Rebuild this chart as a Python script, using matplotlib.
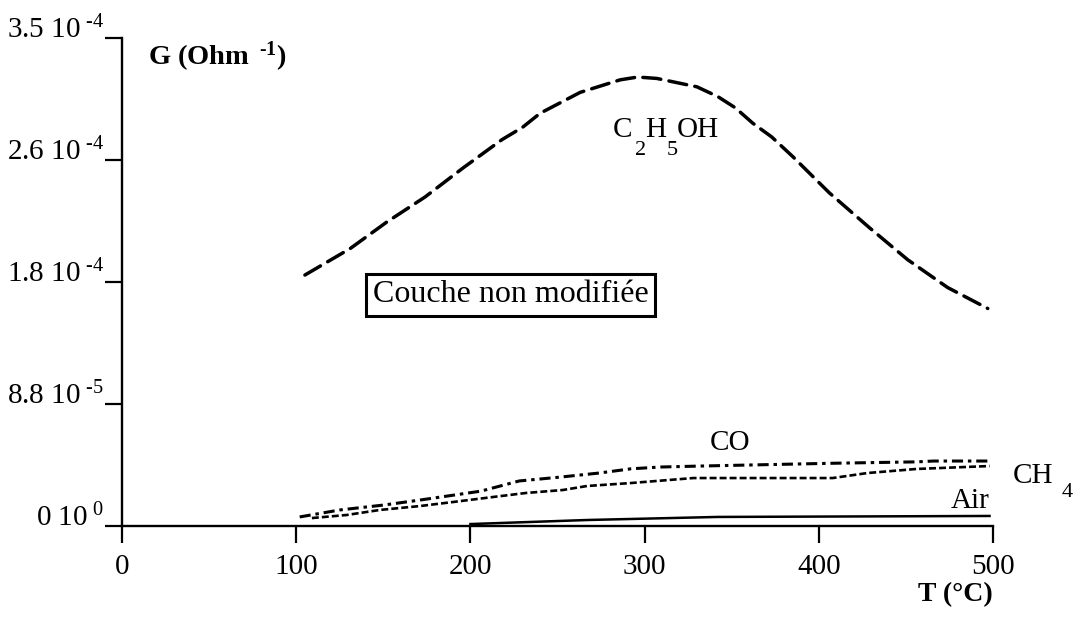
# conductance vs temperature, undoped layer
import matplotlib
matplotlib.use('Agg')
import matplotlib.pyplot as plt

plt.rcParams['font.family'] = ['Liberation Serif', 'DejaVu Serif']
plt.rcParams['mathtext.fontset'] = 'custom'
plt.rcParams['mathtext.rm'] = 'Liberation Serif'
plt.rcParams['mathtext.it'] = 'Liberation Serif'
plt.rcParams['mathtext.bf'] = 'Liberation Serif:bold'
plt.rcParams['mathtext.default'] = 'regular'
plt.rcParams['lines.scale_dashes'] = False

# data (T in degC, G in Ohm^-1)
t_eth = [105, 131, 152, 174, 196, 218, 230, 240, 263, 286, 296, 307, 330, 342,
         352, 362, 373, 385, 406, 429, 451, 474, 497]
g_eth = [1.80e-4, 1.99e-4, 2.18e-4, 2.36e-4, 2.57e-4, 2.77e-4, 2.86e-4, 2.96e-4,
         3.11e-4, 3.20e-4, 3.22e-4, 3.21e-4, 3.15e-4, 3.08e-4, 3.00e-4, 2.89e-4,
         2.79e-4, 2.65e-4, 2.39e-4, 2.14e-4, 1.91e-4, 1.71e-4, 1.56e-4]

t_co = [102, 125, 150, 171, 206, 228, 251, 274, 292, 309, 332, 408, 456, 466, 498]
g_co = [6.5e-6, 1.15e-5, 1.5e-5, 1.86e-5, 2.5e-5, 3.23e-5, 3.5e-5, 3.8e-5, 4.1e-5,
        4.23e-5, 4.3e-5, 4.5e-5, 4.6e-5, 4.66e-5, 4.66e-5]

t_ch4 = [109, 129, 148, 171, 190, 213, 232, 253, 267, 292, 328, 408, 428, 456, 498]
g_ch4 = [5.7e-6, 7.9e-6, 1.15e-5, 1.43e-5, 1.72e-5, 2.08e-5, 2.37e-5, 2.58e-5,
         2.87e-5, 3.08e-5, 3.44e-5, 3.44e-5, 3.8e-5, 4.09e-5, 4.3e-5]

t_air = [200, 267, 342, 498]
g_air = [1.4e-6, 4.3e-6, 6.5e-6, 7.2e-6]

xticks = [0, 100, 200, 300, 400, 500]
yticks = [0, 8.75e-5, 1.75e-4, 2.625e-4, 3.5e-4]
# U+2010 hyphen so the exponent keeps a short dash like the original
ylabels = ['0 10$^{\\ 0}$', '8.8 10$^{\\ \u20105}$', '1.8 10$^{\\ \u20104}$',
           '2.6 10$^{\\ \u20104}$', '3.5 10$^{\\ \u20104}$']


def main():
    fig = plt.figure(figsize=(10.73, 6.24), dpi=100)
    ax = fig.add_axes([122 / 1073, 98 / 624, 871 / 1073, 488 / 624])

    ax.plot(t_eth, g_eth, color='black', lw=2.5, dashes=(13, 6),
            dash_capstyle='round')
    ax.plot(t_co, g_co, color='black', lw=2.2, dashes=(8, 3.5, 2.5, 3.5))
    ax.plot(t_ch4, g_ch4, color='black', lw=1.9, dashes=(5, 2.2))
    ax.plot(t_air, g_air, color='black', lw=1.8)

    ax.set_xlim(0, 500)
    ax.set_ylim(0, 3.5e-4)
    ax.set_xticks(xticks)
    ax.set_yticks(yticks)
    ax.set_yticklabels(ylabels)
    for lab in ax.get_yticklabels():
        lab.set_va('baseline')

    for side in ['top', 'right']:
        ax.spines[side].set_visible(False)
    for side in ['left', 'bottom']:
        ax.spines[side].set_linewidth(1.7)
    ax.tick_params(axis='both', direction='out', length=12, width=1.6,
                   labelsize=21)
    ax.tick_params(axis='x', pad=8)
    ax.tick_params(axis='y', pad=1)

    # axis titles, written inside / next to the axes like the original
    ax.text(0.03, 0.962, 'G (Ohm$^{\\ \\ \u20101}$)', transform=ax.transAxes,
            fontsize=20.5, fontweight='bold', va='center', ha='left')
    ax.text(0.957, -0.141, 'T (\u00b0C)', transform=ax.transAxes,
            fontsize=20, fontweight='bold', va='center', ha='center')

    # curve labels, subscripts set low as in the original
    ax.text(281.9, 2.79e-4, 'C', fontsize=21, va='baseline')
    ax.text(294.5, 2.66e-4, '2', fontsize=16, va='baseline')
    ax.text(300.2, 2.79e-4, 'H', fontsize=21, va='baseline')
    ax.text(312.9, 2.66e-4, '5', fontsize=16, va='baseline')
    ax.text(318.6, 2.79e-4, 'OH', fontsize=21, va='baseline')

    ax.text(349, 5.95e-5, 'CO', fontsize=21, ha='center', va='center')
    ax.text(498, 1.79e-5, 'Air', fontsize=21, ha='right', va='center')
    ax.text(511.5, 3.08e-5, 'CH', fontsize=21, va='baseline', clip_on=False)
    ax.text(539.6, 2.08e-5, '4', fontsize=16, va='baseline', clip_on=False)

    ax.text(223, 1.657e-4, 'Couche non modifi\u00e9e', fontsize=23,
            ha='center', va='center',
            bbox=dict(boxstyle='square,pad=0.2', fc='white', ec='black',
                      lw=2.2))

    fig.savefig('out.png', dpi=100)


if __name__ == '__main__':
    main()
